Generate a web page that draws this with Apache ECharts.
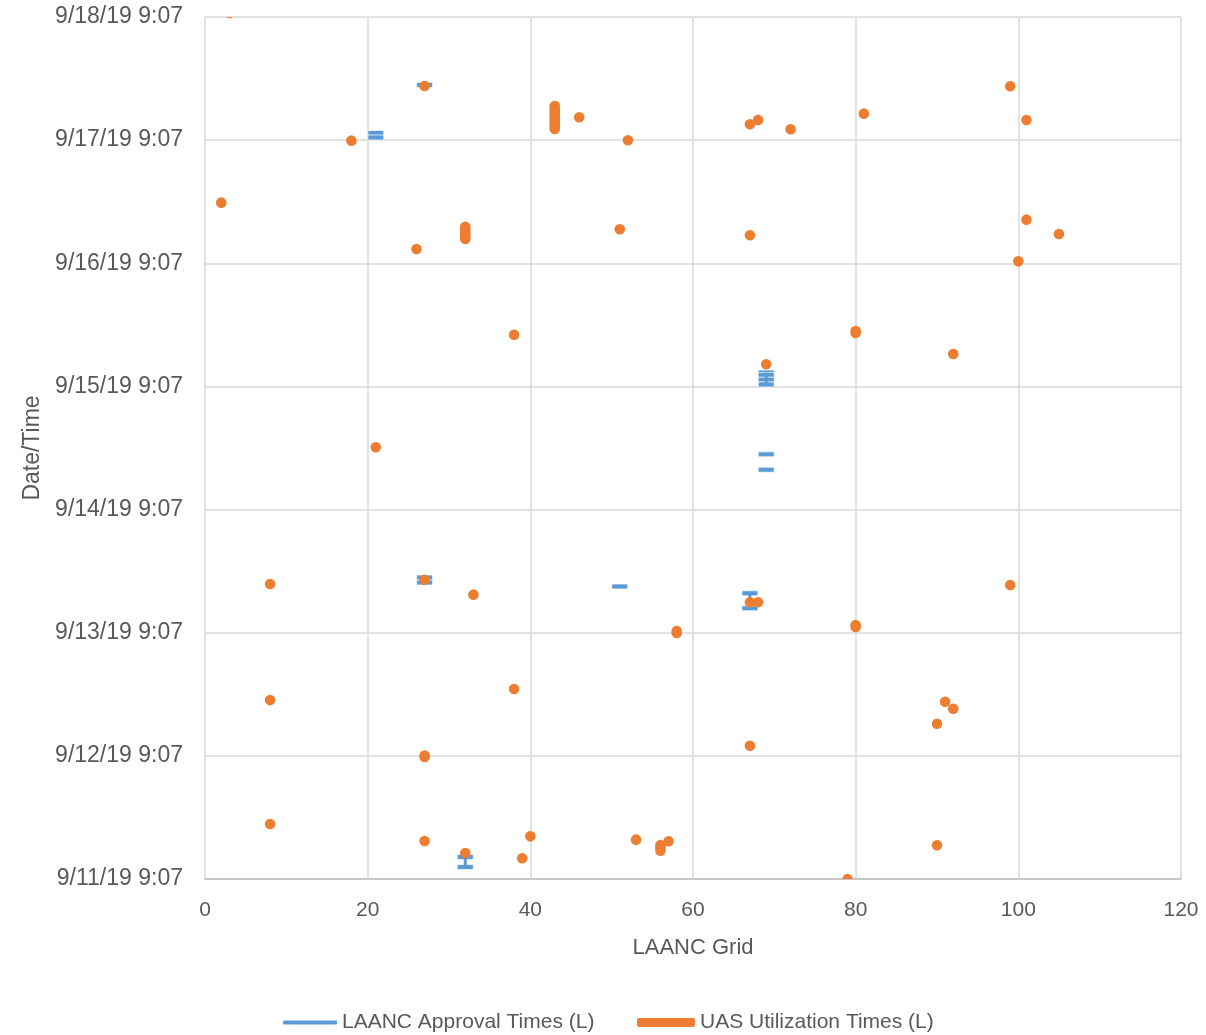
<!DOCTYPE html>
<html>
<head>
<meta charset="utf-8">
<script src="https://cdn.jsdelivr.net/npm/echarts@6/dist/echarts.min.js"></script>
<style>
  html, body { margin: 0; padding: 0; background: #ffffff; }
  #chart { width: 1206px; height: 1035px; }
</style>
</head>
<body>
<div id="chart"></div>
<script>
// ---------------- DATA ----------------
const xTickLabels = ['0', '20', '40', '60', '80', '100', '120'];
const yTickLabels = ['9/11/19 9:07', '9/12/19 9:07', '9/13/19 9:07', '9/14/19 9:07',
                     '9/15/19 9:07', '9/16/19 9:07', '9/17/19 9:07', '9/18/19 9:07'];

// UAS Utilization Times (L): grid, start, end
const uasGrid = [3, 27, 18, 43, 46, 52, 67, 68, 72, 81, 99, 101,
                 2, 26, 32, 51, 67, 101, 105, 100,
                 38, 80, 92, 69, 21,
                 8, 27, 33, 58, 67, 68, 80, 99,
                 8, 38, 27, 67, 91, 92, 90,
                 8, 27, 32, 40, 39, 53, 56, 57, 90, 79];
const uasStart = ['9/18/19 9:54', '9/17/19 19:40', '9/17/19 9:01', '9/17/19 11:17', '9/17/19 13:34', '9/17/19 9:05',
                  '9/17/19 12:13', '9/17/19 13:03', '9/17/19 11:14', '9/17/19 14:17', '9/17/19 19:37', '9/17/19 13:03',
                  '9/16/19 20:56', '9/16/19 11:54', '9/16/19 13:51', '9/16/19 15:45', '9/16/19 14:34', '9/16/19 17:37',
                  '9/16/19 14:50', '9/16/19 9:30',
                  '9/15/19 19:12', '9/15/19 19:32', '9/15/19 15:26', '9/15/19 13:26', '9/14/19 21:15',
                  '9/13/19 18:37', '9/13/19 19:27', '9/13/19 16:32', '9/13/19 9:04', '9/13/19 15:03', '9/13/19 15:03',
                  '9/13/19 10:14', '9/13/19 18:25',
                  '9/12/19 20:00', '9/12/19 22:09', '9/12/19 8:54', '9/12/19 11:06', '9/12/19 19:40', '9/12/19 18:18',
                  '9/12/19 15:23',
                  '9/11/19 19:50', '9/11/19 16:31', '9/11/19 14:11', '9/11/19 17:26', '9/11/19 13:09', '9/11/19 16:47',
                  '9/11/19 14:38', '9/11/19 16:28', '9/11/19 15:41', '9/11/19 9:05'];
const uasEnd = ['9/18/19 9:54', '9/17/19 19:40', '9/17/19 9:01', '9/17/19 15:47', '9/17/19 13:34', '9/17/19 9:05',
                '9/17/19 12:13', '9/17/19 13:03', '9/17/19 11:14', '9/17/19 14:17', '9/17/19 19:37', '9/17/19 13:03',
                '9/16/19 20:56', '9/16/19 11:54', '9/16/19 16:15', '9/16/19 15:45', '9/16/19 14:34', '9/16/19 17:37',
                '9/16/19 14:50', '9/16/19 9:30',
                '9/15/19 19:12', '9/15/19 19:55', '9/15/19 15:26', '9/15/19 13:26', '9/14/19 21:15',
                '9/13/19 18:37', '9/13/19 19:27', '9/13/19 16:32', '9/13/19 9:27', '9/13/19 15:03', '9/13/19 15:03',
                '9/13/19 10:37', '9/13/19 18:25',
                '9/12/19 20:00', '9/12/19 22:09', '9/12/19 9:11', '9/12/19 11:06', '9/12/19 19:40', '9/12/19 18:18',
                '9/12/19 15:23',
                '9/11/19 19:50', '9/11/19 16:31', '9/11/19 14:11', '9/11/19 17:26', '9/11/19 13:09', '9/11/19 16:47',
                '9/11/19 15:45', '9/11/19 16:28', '9/11/19 15:41', '9/11/19 9:05'];

// LAANC Approval Times (L): individual approval marks
const laancGrid = [27, 21, 21, 69, 69, 69, 69, 69, 69, 27, 27, 51, 67, 67, 32, 32];
const laancTime = ['9/17/19 19:52', '9/17/19 10:31', '9/17/19 9:38',
                   '9/15/19 11:50', '9/15/19 11:21', '9/15/19 10:26', '9/15/19 9:30',
                   '9/14/19 19:53', '9/14/19 16:53',
                   '9/13/19 19:53', '9/13/19 18:54', '9/13/19 18:07',
                   '9/13/19 16:48', '9/13/19 13:53',
                   '9/11/19 13:24', '9/11/19 11:27'];
// LAANC approval windows joined by a line
const laancSpanGrid = [69, 67, 32];
const laancSpanStart = ['9/15/19 9:30', '9/13/19 13:53', '9/11/19 11:27'];
const laancSpanEnd = ['9/15/19 11:50', '9/13/19 16:48', '9/11/19 13:24'];

// ---------------- HELPERS ----------------
function toMinutes(s) {
  const [d, t] = s.split(' ');
  const [mo, da, yr] = d.split('/').map(Number);
  const [h, mi] = t.split(':').map(Number);
  return Date.UTC(2000 + yr, mo - 1, da, h, mi) / 60000;
}
const origin = toMinutes(yTickLabels[0]);
function toDays(s) { return (toMinutes(s) - origin) / 1440; }

const uasData = uasGrid.map((g, i) => [g, toDays(uasStart[i]), toDays(uasEnd[i])]);
const laancData = laancGrid.map((g, i) => [g, toDays(laancTime[i])]);
const laancSpanData = laancSpanGrid.map((g, i) => [g, toDays(laancSpanStart[i]), toDays(laancSpanEnd[i])]);

const BLUE = '#5B9BD5';
const ORANGE = '#ED7D31';
const FONT = '"Liberation Sans", Arial, sans-serif';

const chart = echarts.init(document.getElementById('chart'));
chart.setOption({
  animation: false,
  backgroundColor: '#ffffff',
  grid: { left: 205, right: 25, top: 17, bottom: 156 },
  xAxis: {
    type: 'value', min: 0, max: 120, interval: 20,
    name: 'LAANC Grid', nameLocation: 'middle', nameGap: 58,
    nameTextStyle: { color: '#595959', fontSize: 22, fontFamily: FONT },
    axisLine: { show: true, lineStyle: { color: '#bfbfbf', width: 1.5 } },
    axisTick: { show: false },
    axisLabel: { color: '#595959', fontSize: 21, fontFamily: FONT, margin: 21,
      formatter: (v) => xTickLabels[Math.round(v / 20)] },
    splitLine: { show: true, lineStyle: { color: '#d9d9d9', width: 1.5 } }
  },
  yAxis: {
    type: 'value', min: 0, max: 7, interval: 1,
    name: 'Date/Time', nameLocation: 'middle', nameGap: 161,
    nameTextStyle: { color: '#595959', fontSize: 23, fontFamily: FONT },
    axisLine: { show: false },
    axisTick: { show: false },
    axisLabel: { color: '#595959', fontSize: 23, fontFamily: FONT, margin: 22,
      formatter: (v) => yTickLabels[Math.round(v)] },
    splitLine: { show: true, lineStyle: { color: '#d9d9d9', width: 1.5 } }
  },
  legend: [
    { data: ['LAANC Approval Times (L)'], left: 283, top: 1012, padding: 0, itemWidth: 54, itemHeight: 4,
      icon: 'roundRect', textStyle: { color: '#595959', fontSize: 21, fontFamily: FONT } },
    { data: ['UAS Utilization Times (L)'], left: 637, top: 1012, padding: 0, itemWidth: 58, itemHeight: 9,
      icon: 'roundRect', textStyle: { color: '#595959', fontSize: 21, fontFamily: FONT } }
  ],
  series: [
    {
      name: 'LAANC Approval Times (L)', type: 'custom', clip: true,
      itemStyle: { color: BLUE },
      encode: { x: 0, y: 1 },
      data: laancData,
      renderItem: (params, api) => {
        const p = api.coord([api.value(0), api.value(1)]);
        return { type: 'rect', shape: { x: p[0] - 8, y: p[1] - 2.5, width: 16, height: 5, r: 1 },
                 style: { fill: BLUE, stroke: '#ffffff', lineWidth: 0.7 } };
      }
    },
    {
      name: 'LAANC Approval Times (L)', type: 'custom', clip: true,
      itemStyle: { color: BLUE },
      encode: { x: 0, y: [1, 2] },
      data: laancSpanData,
      renderItem: (params, api) => {
        const p1 = api.coord([api.value(0), api.value(1)]);
        const p2 = api.coord([api.value(0), api.value(2)]);
        return { type: 'line', shape: { x1: p1[0], y1: p1[1], x2: p2[0], y2: p2[1] },
                 style: { stroke: BLUE, lineWidth: 3 } };
      }
    },
    {
      name: 'UAS Utilization Times (L)', type: 'custom', clip: true,
      itemStyle: { color: ORANGE },
      encode: { x: 0, y: [1, 2] },
      data: uasData,
      renderItem: (params, api) => {
        const R = 5.3;
        const p1 = api.coord([api.value(0), api.value(1)]);
        const p2 = api.coord([api.value(0), api.value(2)]);
        const top = Math.min(p1[1], p2[1]) - R;
        const h = Math.abs(p1[1] - p2[1]) + 2 * R;
        return { type: 'rect', shape: { x: p1[0] - R, y: top, width: 2 * R, height: h, r: R },
                 style: { fill: ORANGE } };
      }
    }
  ]
});
</script>
</body>
</html>
